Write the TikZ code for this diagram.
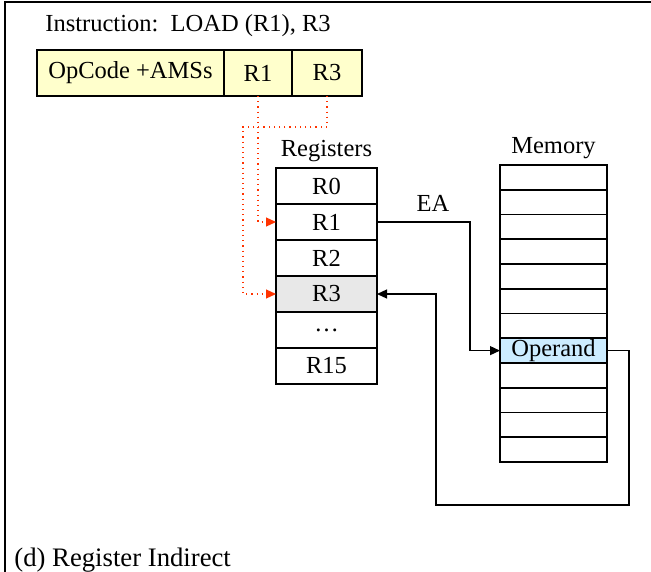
\documentclass[tikz,border=0pt]{standalone}
\usepackage{fontspec}
\setmainfont{Liberation Serif}
\usepackage{tikz}
\usetikzlibrary{positioning, calc, arrows.meta}
\definecolor{fieldyellow}{HTML}{FFFFCC}
\definecolor{reggray}{HTML}{E8E8E8}
\definecolor{opblue}{HTML}{CCECFF}
\definecolor{ptrred}{HTML}{FF3300}
\tikzset{
	field/.style={draw, line width=0.8bp, fill=fieldyellow, minimum height=23bp, inner sep=0pt, outer sep=0pt},
	regbox/.style={draw, line width=0.8bp, minimum width=50.5bp, minimum height=18bp, inner sep=0pt, outer sep=0pt},
	membox/.style={draw, line width=0.8bp, minimum width=53.5bp, minimum height=12.375bp, inner sep=0pt, outer sep=0pt},
	link/.style={line width=0.6bp, -{Triangle[length=5bp,width=4.5bp]}},
	ptr/.style={ptrred, line width=0.6bp, dotted, -{Triangle[length=5bp,width=4.5bp]}}
}

\begin{document}
\begin{tikzpicture}[x=0.5bp, y=-0.5bp, font=\fontsize{12.3}{14}\selectfont]
			\useasboundingbox (0,0) rectangle (651,572);
			\draw [line width=1bp] (651,2) -- (5,2) -- (5,572);
			\node [anchor=base west, inner sep=0pt] (instr) at (45,32) {Instruction:~~LOAD (R1), R3};
			\node [field, minimum width=93.5bp] (op) at (130.5,73) {OpCode +AMSs};
			\node [field, minimum width=34bp, right=0pt of op] (r1f) {R1};
			\node [field, minimum width=35bp, right=0pt of r1f] (r3f) {R3};
			\node [regbox] (r0) at (326.5,186) {R0};
			\node [regbox, below=0pt of r0] (r1) {R1};
			\node [regbox, below=0pt of r1] (r2) {R2};
			\node [regbox, fill=reggray, below=0pt of r2] (r3) {R3};
			\node [regbox, below=0pt of r3] (rdots) {\dots};
			\node [regbox, below=0pt of rdots] (r15) {R15};
			\node [above=-0.5bp of r0] (reglabel) {Registers};
			\foreach \i in {1,...,12}
				\node [membox] (m\i) at (553.5,{165+24.75*\i-12.375}) {};
			\node [membox, fill=opblue] (m8) at (m8) {Operand};
			\node [above=-0.5bp of m1] (memlabel) {Memory};
			\node (ea) at (433,203) {EA};
			\coordinate (eax) at (470,0);
			\coordinate (bk1) at (629,505);
			\coordinate (bk2) at (436,505);
			\coordinate (rd) at (243,127);
			\draw [link] (r1.east) -- (r1.east -| eax) |- (m8.west);
			\draw [link] (m8.east) -| (bk1) -- (bk2) |- (r3.east);
			\draw [ptr] (r1f.south) |- (r1.west);
			\draw [ptr] (r3f.south) |- (rd) |- (r3.west);
			\node [anchor=base west, inner sep=0pt, font=\fontsize{13.4}{16}\selectfont] (caption) at (14,566) {(d) Register Indirect};
		\end{tikzpicture}
\end{document}
